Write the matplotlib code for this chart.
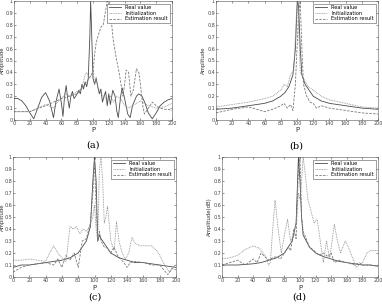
# four amplitude vs P panels (a)-(d)

import numpy as np
import matplotlib
matplotlib.use("Agg")
import matplotlib.pyplot as plt

# ---- panel (a) ----
a_real_x = [0,5,10,15,20,25,30,35,40,45,50,53,57,60,62,64,66,68,70,72,74,76,78,80,82,84,86,88,90,92,94,96,97,98,100,102,104,106,108,110,112,114,116,118,120,122,125,128,130,132,135,137,140,144,147,150,155,158,162,166,170,175,180,185,190,195,200]
a_real_y = [0.18,0.18,0.16,0.12,0.06,0.01,0.10,0.19,0.23,0.16,0.02,0.15,0.26,0.14,0.03,0.20,0.29,0.18,0.10,0.20,0.24,0.18,0.20,0.22,0.25,0.22,0.30,0.26,0.32,0.28,0.35,0.70,1.00,0.80,0.35,0.30,0.35,0.28,0.22,0.26,0.15,0.20,0.24,0.12,0.22,0.13,0.25,0.20,0.08,0.02,0.20,0.27,0.18,0.05,0.02,0.12,0.20,0.22,0.20,0.14,0.06,0.01,0.06,0.12,0.15,0.17,0.18]
a_init_x = [0,10,20,30,40,50,55,60,65,70,75,80,85,88,90,92,95,98,100,102,104,106,108,110,114,118,122,126,130,135,140,145,150,160,170,180,190,200]
a_init_y = [0.07,0.07,0.07,0.10,0.13,0.10,0.15,0.18,0.22,0.20,0.22,0.24,0.26,0.32,0.38,0.40,0.35,0.38,0.42,0.30,0.36,0.28,0.25,0.22,0.20,0.16,0.20,0.15,0.20,0.18,0.12,0.10,0.12,0.16,0.12,0.10,0.11,0.14]
a_est_x = [0,20,40,60,80,90,95,98,100,102,104,107,110,113,116,118,120,122,124,126,130,133,136,138,140,142,145,148,151,155,158,160,163,165,170,175,180,185,190,195,200]
a_est_y = [0.07,0.07,0.12,0.18,0.22,0.30,0.35,0.38,0.40,0.55,0.65,0.72,0.78,0.80,0.92,1.00,0.98,0.90,0.78,0.65,0.50,0.40,0.28,0.20,0.30,0.42,0.40,0.20,0.25,0.43,0.40,0.30,0.12,0.05,0.10,0.15,0.12,0.10,0.09,0.09,0.08]

# ---- panel (b) ----
b_real_x = [0,20,40,60,70,80,85,90,95,98,100,101,102,104,106,110,115,120,130,140,160,180,200]
b_real_y = [0.09,0.10,0.12,0.14,0.16,0.20,0.23,0.28,0.38,0.60,0.95,1.00,0.95,0.60,0.38,0.30,0.25,0.20,0.16,0.14,0.12,0.10,0.09]
b_init_x = [0,20,40,60,70,80,84,88,92,96,98,100,102,104,108,114,120,130,140,160,180,200]
b_init_y = [0.11,0.13,0.15,0.18,0.20,0.25,0.30,0.28,0.38,0.42,0.70,1.00,0.80,0.40,0.35,0.28,0.25,0.20,0.17,0.14,0.11,0.10]
b_est_x = [0,20,40,50,60,70,80,84,88,92,95,98,100,102,104,106,108,112,116,120,124,130,140,160,180,200]
b_est_y = [0.06,0.09,0.11,0.09,0.07,0.09,0.12,0.14,0.10,0.13,0.08,0.30,0.60,0.90,1.00,0.60,0.30,0.20,0.15,0.14,0.10,0.12,0.10,0.08,0.06,0.05]

# ---- panel (c) ----
c_real_x = [0,10,20,30,40,50,60,70,80,85,90,95,98,100,102,104,106,108,112,120,130,140,150,160,170,180,190,200]
c_real_y = [0.08,0.10,0.10,0.11,0.12,0.13,0.14,0.16,0.20,0.25,0.30,0.42,0.80,1.00,0.80,0.30,0.35,0.32,0.28,0.20,0.16,0.14,0.12,0.12,0.11,0.10,0.09,0.08]
c_init_x = [0,10,20,30,40,45,50,55,60,65,70,74,78,82,86,90,94,98,100,102,104,106,108,110,112,114,116,118,120,124,127,130,134,138,142,146,150,156,162,170,176,180,186,192,196,200]
c_init_y = [0.14,0.14,0.15,0.14,0.13,0.20,0.26,0.20,0.16,0.13,0.42,0.40,0.42,0.36,0.40,0.38,0.42,0.50,0.60,0.40,0.30,0.90,1.00,0.80,0.45,0.50,0.59,0.45,0.30,0.22,0.46,0.30,0.20,0.15,0.20,0.33,0.28,0.26,0.26,0.26,0.22,0.18,0.10,0.04,0.08,0.10]
c_est_x = [0,10,20,30,40,50,55,60,65,70,75,80,85,90,95,98,100,102,104,106,108,112,116,120,124,128,132,136,140,144,150,160,170,180,185,190,195,200]
c_est_y = [0.04,0.08,0.10,0.11,0.12,0.10,0.15,0.08,0.18,0.14,0.20,0.08,0.30,0.32,0.45,0.70,0.98,0.60,0.30,0.38,0.30,0.25,0.24,0.20,0.25,0.18,0.15,0.12,0.08,0.12,0.13,0.12,0.10,0.10,0.06,0.02,0.07,0.06]

# ---- panel (d) ----
d_real_x = [0,20,40,50,60,70,80,85,90,95,98,100,102,104,108,112,120,130,140,150,160,170,180,190,200]
d_real_y = [0.10,0.10,0.11,0.12,0.14,0.16,0.20,0.25,0.30,0.45,1.00,0.80,0.50,0.35,0.30,0.25,0.20,0.17,0.15,0.13,0.12,0.11,0.10,0.10,0.09]
d_init_x = [0,10,20,30,40,48,55,60,62,65,68,72,76,80,84,88,92,95,98,100,102,104,106,110,114,118,122,126,130,134,138,144,148,152,158,162,168,172,180,186,190,200]
d_init_y = [0.15,0.16,0.18,0.23,0.26,0.24,0.18,0.10,0.12,0.40,0.64,0.40,0.20,0.35,0.48,0.30,0.35,0.45,0.70,0.65,0.80,1.00,0.90,0.65,0.55,0.45,0.48,0.30,0.12,0.30,0.15,0.44,0.30,0.20,0.30,0.25,0.15,0.08,0.12,0.20,0.22,0.22]
d_est_x = [0,10,20,30,40,45,50,55,60,65,70,75,80,85,88,92,95,98,100,102,104,108,112,118,124,130,136,140,144,150,160,170,176,180,190,200]
d_est_y = [0.10,0.12,0.14,0.10,0.15,0.12,0.20,0.17,0.14,0.16,0.17,0.15,0.20,0.25,0.22,0.40,0.32,0.90,1.00,0.50,0.38,0.32,0.25,0.22,0.18,0.20,0.17,0.20,0.12,0.14,0.12,0.10,0.12,0.10,0.10,0.09]

labels = ["Real value", "Initialization", "Estimation result"]
panels = [
    ("(a)", a_real_x, a_real_y, a_init_x, a_init_y, a_est_x, a_est_y, "Amplitude"),
    ("(b)", b_real_x, b_real_y, b_init_x, b_init_y, b_est_x, b_est_y, "Amplitude"),
    ("(c)", c_real_x, c_real_y, c_init_x, c_init_y, c_est_x, c_est_y, "Amplitude"),
    ("(d)", d_real_x, d_real_y, d_init_x, d_init_y, d_est_x, d_est_y, "Amplitude(dB)"),
]

W, H = 382, 304
fig = plt.figure(figsize=(W / 100, H / 100), dpi=100)

# axes boxes in pixels: left, top, right, bottom
boxes = [(14, 1, 172, 120), (216, 1, 378, 120), (13, 157, 176, 277), (222, 157, 378, 277)]
captions = [(93, 145), (296, 146), (95, 297), (299, 297)]
ylab_x = [5.2, 206, 5.2, 212]   # right edge of the rotated y label, pixels

for (name, rx, ry, ix, iy, ex, ey, ylab), box, cap, lx in zip(panels, boxes, captions, ylab_x):
    l, t, r, b = box
    ax = fig.add_axes([l / W, 1 - b / H, (r - l) / W, (b - t) / H])
    ax.plot(rx, ry, color="#4a4a4a", lw=0.6, label=labels[0])
    ax.plot(ix, iy, color="#8a8a8a", lw=0.6, ls=(0, (1, 1)), label=labels[1])
    ax.plot(ex, ey, color="#7a7a7a", lw=0.6, ls=(0, (3, 1.5)), label=labels[2])
    ax.set_xlim(0, 200)
    ax.set_ylim(0, 1)
    ax.set_xticks(np.arange(0, 201, 20))
    ax.set_yticks(np.arange(0, 1.01, 0.1))
    ax.set_yticklabels(["0", "0.1", "0.2", "0.3", "0.4", "0.5", "0.6", "0.7", "0.8", "0.9", "1"])
    ax.tick_params(labelsize=3.5, length=1.5, width=0.4, pad=0.8, direction="in",
                   top=True, right=True, colors="#444444")
    for s in ax.spines.values():
        s.set_linewidth(0.4)
        s.set_color("#555555")
    ax.set_xlabel("P", fontsize=5, labelpad=1, color="#333333")
    ax.set_ylabel(ylab, fontsize=3.9, color="#333333")
    ax.yaxis.set_label_coords(-(l - lx) / (r - l), 0.5)
    leg = ax.legend(loc="upper right", fontsize=3.6, handlelength=2.5, borderpad=0.3,
                    labelspacing=0.15, fancybox=False, framealpha=1)
    leg.get_frame().set_linewidth(0.4)
    leg.get_frame().set_edgecolor("#555555")
    fig.text(cap[0] / W, 1 - cap[1] / H, name, fontsize=7, family="DejaVu Serif",
             ha="center", va="center")

fig.savefig("out.png", dpi=100)
